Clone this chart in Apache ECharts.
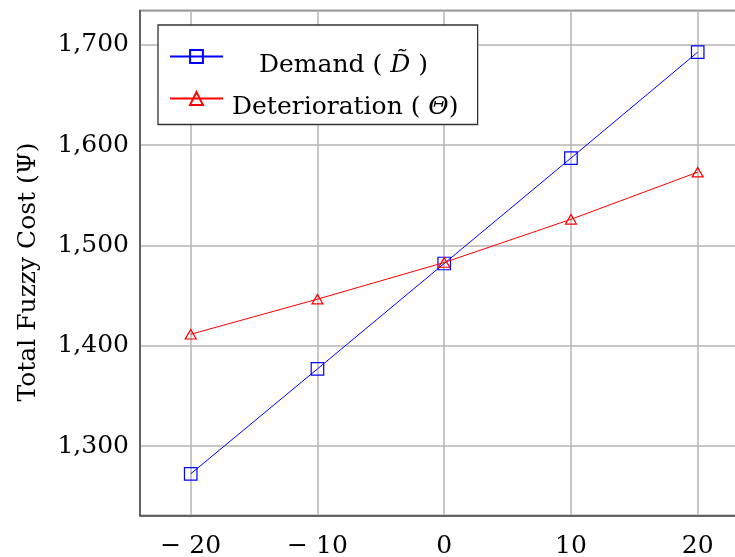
<!DOCTYPE html>
<html>
<head>
<meta charset="utf-8">
<script src="https://cdn.jsdelivr.net/npm/echarts@6/dist/echarts.min.js"></script>
<style>
html,body{margin:0;padding:0;background:#fff;}
#chart{width:735px;height:557px;}
</style>
</head>
<body>
<div id="chart"></div>
<script>
// ---- data ----
const xValues = [-20, -10, 0, 10, 20];
const demandValues = [1272.5, 1377, 1482, 1587, 1692.5];
const deteriorationValues = [1411.5, 1446.5, 1483, 1526, 1573];
const seriesNames = ['Demand', 'Deterioration'];
const yAxisTitle = 'Total Fuzzy Cost (Ψ)';

const FONT = 'DejaVu Serif';

function pairs(xs, ys) { return xs.map((x, i) => [x, ys[i]]); }

const chart = echarts.init(document.getElementById('chart'), null, {renderer: 'canvas'});

const richBase = {fontFamily: FONT, fontSize: 25, color: '#000', lineHeight: 26};

const option = {
  animation: false,
  backgroundColor: '#fff',
  grid: {
    left: 140, top: 10.5, width: 608.4, height: 505,
    outerBoundsMode: 'none',
    containLabel: false,
    show: true, borderColor: '#4d4d4d', borderWidth: 1.5, backgroundColor: 'transparent'
  },
  legend: {
    orient: 'vertical',
    left: 158, top: 25,
    backgroundColor: '#fff',
    borderColor: '#333',
    borderWidth: 1.3,
    borderRadius: 0,
    padding: [16.5, 19, 5, 11],
    itemGap: 6,
    itemWidth: 53,
    itemHeight: 16,
    textStyle: {
      fontFamily: FONT, fontSize: 25, color: '#000',
      rich: {
        gap: {fontSize: 4, lineHeight: 17},
        sp1: Object.assign({width: 31}, richBase),
        sp2: Object.assign({width: 4}, richBase),
        a: Object.assign({}, richBase),
        i: Object.assign({fontStyle: 'italic'}, richBase)
      }
    },
    formatter: function (name) {
      if (name === seriesNames[0]) return '{gap| }\n{sp1| }{a|Demand ( }{i|D\u0303}{a| )}';
      return '{gap| }\n{sp2| }{a|Deterioration ( }{i|Θ}{a|)}';
    },
    data: seriesNames
  },
  xAxis: {
    type: 'value',
    min: -24, max: 24,
    axisLine: {show: true, onZero: false, lineStyle: {color: '#4d4d4d', width: 1.5}},
    axisTick: {show: false},
    splitLine: {show: true, lineStyle: {color: '#b4b4b4', width: 1.5}},
    axisLabel: {
      showMinLabel: false, showMaxLabel: false,
      margin: 18,
      fontFamily: FONT, fontSize: 25, color: '#000',
      formatter: v => v < 0 ? '\u2212 ' + Math.abs(v) : String(v)
    }
  },
  yAxis: {
    type: 'value',
    min: 1231, max: 1734,
    name: yAxisTitle,
    nameLocation: 'middle',
    nameGap: 99,
    nameTextStyle: {fontFamily: FONT, fontSize: 25, color: '#000', padding: [0, 18, 0, 0]},
    axisLine: {show: true, onZero: false, lineStyle: {color: '#4d4d4d', width: 1.5}},
    axisTick: {show: false},
    splitLine: {show: true, lineStyle: {color: '#b4b4b4', width: 1.5}},
    axisLabel: {
      showMinLabel: false, showMaxLabel: false,
      margin: 11,
      fontFamily: FONT, fontSize: 25, color: '#000',
      formatter: v => v.toLocaleString('en-US')
    }
  },
  series: [
    {
      name: seriesNames[0],
      type: 'line',
      data: pairs(xValues, demandValues),
      symbol: 'rect',
      symbolSize: 12.5,
      itemStyle: {color: 'rgba(0,0,255,0)', borderColor: '#0000ff', borderWidth: 1.2},
      lineStyle: {color: '#0000ff', width: 1},
      emphasis: {disabled: true},
      z: 3
    },
    {
      name: seriesNames[1],
      type: 'line',
      data: pairs(xValues, deteriorationValues),
      symbol: 'triangle',
      symbolSize: [11, 9.5],
      itemStyle: {color: 'rgba(255,0,0,0)', borderColor: '#ff0000', borderWidth: 1.2},
      lineStyle: {color: '#ff0000', width: 1},
      emphasis: {disabled: true},
      z: 4
    }
  ]
};
chart.setOption(option);
</script>
</body>
</html>
